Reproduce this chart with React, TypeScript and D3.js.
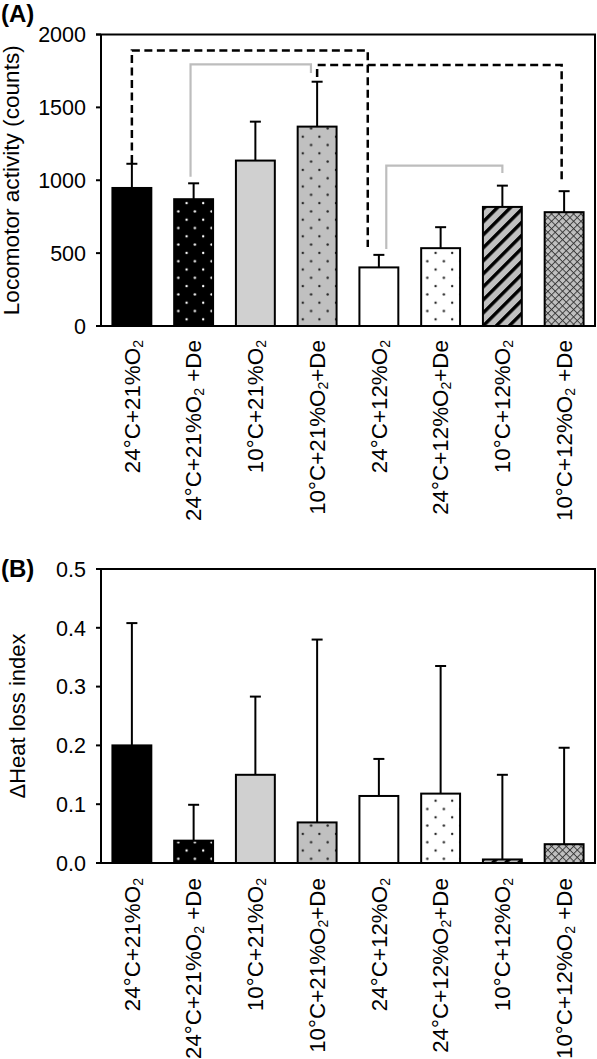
import React from "react";
import * as d3 from "d3";

const categories = ["c1", "c2", "c3", "c4", "c5", "c6", "c7", "c8"];
const labelMain = ["24°C+21%O", "24°C+21%O", "10°C+21%O", "10°C+21%O", "24°C+12%O", "24°C+12%O", "10°C+12%O", "10°C+12%O"];
const labelSuffix = ["", " +De", "", "+De", "", "+De", "", " +De"];
const fills = ["#000000", "url(#dotsWhiteOnBlack)", "#d0d0d0", "url(#dotsOnGray)", "#ffffff", "url(#dotsOnWhite)", "url(#stripes)", "url(#cross)"];

const locoMean = [947, 870, 1135, 1368, 402, 534, 817, 781];
const locoSD = [166, 109, 267, 308, 86, 144, 146, 144];
const locoTicks = [0, 500, 1000, 1500, 2000];

const heatMean = [0.2, 0.038, 0.15, 0.069, 0.114, 0.118, 0.006, 0.032];
const heatSD = [0.208, 0.061, 0.133, 0.311, 0.063, 0.217, 0.144, 0.164];
const heatTicks = [0, 0.1, 0.2, 0.3, 0.4, 0.5];

// significance brackets (panel A): bar indices, top value, leg end values, x nudge (fraction of band)
const brFrom = [0, 1, 3, 4];
const brTo = [4, 3, 7, 6];
const brTop = [1890, 1795, 1790, 1100];
const brFromEnd = [1118, 1024, 1708, 528];
const brToEnd = [542, 1735, 981, 1049];
const brFromNudge = [0, -0.05, 0, 0.12];
const brToNudge = [-0.18, -0.1, -0.04, 0];
const brDashed = [true, false, true, false];

const W = 597, H = 1059;
const left = 101, right = 595;
const font = "'Liberation Sans', Arial, sans-serif";

const x = d3.scaleBand<string>().domain(categories).range([left, right]).paddingInner(0.37).paddingOuter(0.185);

function Panel({ top, bottom, mean, sd, ticks, max, fmt, title, titleSize, tag, tagY, labelY, titleX, brackets }: any) {
  const y = d3.scaleLinear().domain([0, max]).range([bottom, top]);
  const bw = x.bandwidth();
  return (
    <g>
      <text x={1} y={tagY} fontFamily={font} fontWeight="bold" fontSize={24}>{tag}</text>
      {categories.map((c, i) => {
        const x0 = x(c)!;
        const cx = x0 + bw / 2;
        const yt = y(mean[i]);
        const ye = y(mean[i] + sd[i]);
        return (
          <g key={c}>
            <line x1={cx} x2={cx} y1={yt} y2={ye} stroke="#000" strokeWidth={2} />
            <line x1={cx - 5.5} x2={cx + 5.5} y1={ye} y2={ye} stroke="#000" strokeWidth={2} />
            <rect x={x0} y={yt} width={bw} height={bottom - yt} fill={fills[i]} stroke="#000" strokeWidth={2} />
          </g>
        );
      })}
      {brackets &&
        brFrom.map((f, i) => {
          const x1 = x(categories[f])! + bw / 2 + brFromNudge[i] * x.step();
          const x2 = x(categories[brTo[i]])! + bw / 2 + brToNudge[i] * x.step();
          const p = d3.path();
          p.moveTo(x1, y(brFromEnd[i]));
          p.lineTo(x1, y(brTop[i]));
          p.lineTo(x2, y(brTop[i]));
          p.lineTo(x2, y(brToEnd[i]));
          return (
            <path key={i} d={p.toString()} fill="none" stroke={brDashed[i] ? "#000" : "#bdbdbd"} strokeWidth={brDashed[i] ? 2.5 : 2.2} strokeDasharray={brDashed[i] ? "8,4.5" : undefined} />
          );
        })}
      <line x1={left} x2={left} y1={top} y2={bottom} stroke="#000" strokeWidth={2} />
      <line x1={right} x2={right} y1={top} y2={bottom} stroke="#000" strokeWidth={2} />
      <line x1={left - 5} x2={right + 1} y1={top} y2={top} stroke="#000" strokeWidth={2} />
      <line x1={left - 5} x2={right + 1} y1={bottom} y2={bottom} stroke="#000" strokeWidth={2} />
      {ticks.map((t: number) => (
        <g key={t}>
          <line x1={left - 5} x2={left} y1={y(t)} y2={y(t)} stroke="#000" strokeWidth={2} />
          <text x={86} y={y(t)} dy="0.36em" textAnchor="end" fontFamily={font} fontSize={21.5}>{fmt(t)}</text>
        </g>
      ))}
      <text transform={`translate(${titleX},${(top + bottom) / 2}) rotate(-90)`} textAnchor="middle" fontFamily={font} fontSize={titleSize}>{title}</text>
      {categories.map((c, i) => (
        <text key={c} transform={`translate(${x(c)! + bw / 2},${labelY}) rotate(-90)`} textAnchor="end" dy="0.35em" fontFamily={font} fontSize={22.4}>
          {labelMain[i]}
          <tspan fontSize={14} dy={3}>2</tspan>
          <tspan dy={-3}>{labelSuffix[i]}</tspan>
        </text>
      ))}
    </g>
  );
}

export default function App() {
  return (
    <svg width={W} height={H} style={{ position: "absolute", left: 0, top: 0, background: "#fff" }}>
      <defs>
        <pattern id="dotsWhiteOnBlack" patternUnits="userSpaceOnUse" width={16.6} height={16.6}>
          <rect width={16.6} height={16.6} fill="#000" />
          <circle cx={4} cy={4} r={1.2} fill="#fff" />
          <circle cx={12.3} cy={12.3} r={1.2} fill="#fff" />
        </pattern>
        <pattern id="dotsOnGray" patternUnits="userSpaceOnUse" width={16.6} height={16.6}>
          <rect width={16.6} height={16.6} fill="#c0c0c0" />
          <circle cx={4} cy={4} r={1.2} fill="#222" />
          <circle cx={12.3} cy={12.3} r={1.2} fill="#222" />
        </pattern>
        <pattern id="dotsOnWhite" patternUnits="userSpaceOnUse" width={16.6} height={16.6}>
          <rect width={16.6} height={16.6} fill="#fff" />
          <circle cx={4} cy={4} r={1.2} fill="#222" />
          <circle cx={12.3} cy={12.3} r={1.2} fill="#222" />
        </pattern>
        <pattern id="stripes" patternUnits="userSpaceOnUse" width={9.2} height={9.2} patternTransform="rotate(45)">
          <rect width={9.2} height={9.2} fill="#c0c0c0" />
          <rect width={3.4} height={9.2} fill="#000" />
        </pattern>
        <pattern id="cross" patternUnits="userSpaceOnUse" width={5.2} height={5.2} patternTransform="rotate(45)">
          <rect width={5.2} height={5.2} fill="#c0c0c0" />
          <line x1={0} x2={5.2} y1={0.5} y2={0.5} stroke="#333" strokeWidth={0.9} />
          <line x1={0.5} x2={0.5} y1={0} y2={5.2} stroke="#333" strokeWidth={0.9} />
        </pattern>
      </defs>
      <Panel top={34.5} bottom={326} mean={locoMean} sd={locoSD} ticks={locoTicks} max={2000} fmt={(t: number) => String(t)}
        title="Locomotor activity  (counts)" titleSize={22.6} tag="(A)" tagY={22} labelY={340} titleX={19} brackets={true} />
      <Panel top={569} bottom={863} mean={heatMean} sd={heatSD} ticks={heatTicks} max={0.5} fmt={(t: number) => t.toFixed(1)}
        title="ΔHeat loss index" titleSize={22} tag="(B)" tagY={577} labelY={878} titleX={25} brackets={false} />
    </svg>
  );
}
